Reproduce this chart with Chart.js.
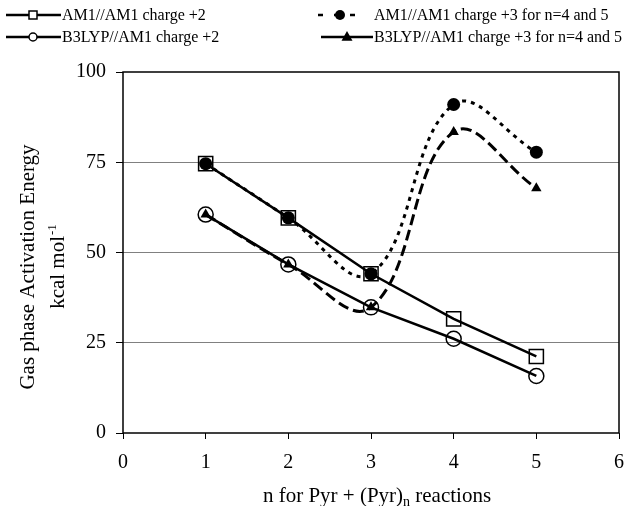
<!DOCTYPE html>
<html>
<head>
<meta charset="utf-8">
<script src="https://cdn.jsdelivr.net/npm/chart.js@4.4.1/dist/chart.umd.min.js"></script>
<style>
  html, body { margin: 0; padding: 0; background: #fff; }
  #box { width: 636px; height: 506px; }
</style>
</head>
<body>
<div id="box"><canvas id="grafico"></canvas></div>
<script>
// Valores
const nValues = [1, 2, 3, 4, 5];
const am1Charge2 = [74.6, 59.6, 44.1, 31.6, 21.2];
const b3lypCharge2 = [60.5, 46.7, 34.8, 26.1, 15.8];
const am1Charge3 = [74.6, 59.6, 44.1, 91.0, 77.8];
const b3lypCharge3 = [60.5, 46.7, 34.8, 83.4, 67.8];
const yTicks = [0, 25, 50, 75, 100];
const xTicks = [0, 1, 2, 3, 4, 5, 6];
const seriesNames = [
  'AM1//AM1 charge +2',
  'B3LYP//AM1 charge +2',
  'AM1//AM1 charge +3 for n=4 and 5',
  'B3LYP//AM1 charge +3 for n=4 and 5'
];

const serif = "'Liberation Serif', 'Times New Roman', serif";

function toPoints(ys) {
  return nValues.map((n, i) => ({ x: n, y: ys[i] }));
}

// desenha um marcador simples (legenda)
function drawMarker(ctx, kind, x, y, s) {
  ctx.save();
  ctx.setLineDash([]);
  ctx.lineWidth = 1.5;
  ctx.strokeStyle = '#000';
  ctx.fillStyle = '#000';
  ctx.beginPath();
  if (kind === 'square') {
    ctx.fillStyle = '#fff';
    ctx.rect(x - s, y - s, 2 * s, 2 * s);
    ctx.fill(); ctx.stroke();
  } else if (kind === 'circle') {
    ctx.fillStyle = '#fff';
    ctx.arc(x, y, s, 0, Math.PI * 2);
    ctx.fill(); ctx.stroke();
  } else if (kind === 'dot') {
    ctx.arc(x, y, s, 0, Math.PI * 2);
    ctx.fill();
  } else if (kind === 'triangle') {
    ctx.moveTo(x, y - s * 1.1);
    ctx.lineTo(x + s, y + s * 0.7);
    ctx.lineTo(x - s, y + s * 0.7);
    ctx.closePath();
    ctx.fill();
  }
  ctx.restore();
}

const legendItems = [
  { text: seriesNames[0], x0: 6, x1: 61, mx: 33, y: 15, dash: [], marker: 'square', ms: 4, tx: 62 },
  { text: seriesNames[1], x0: 6, x1: 61, mx: 33, y: 37, dash: [], marker: 'circle', ms: 4, tx: 62 },
  { text: seriesNames[2], x0: 318, x1: 358, mx: 340, y: 15, dash: [5, 11], marker: 'dot', ms: 5, tx: 374 },
  { text: seriesNames[3], x0: 321, x1: 373, mx: 347, y: 37, dash: [], marker: 'triangle', ms: 5.5, tx: 374 }
];

const extraText = {
  id: 'extraText',
  beforeDatasetsDraw(chart) {
    const { ctx, chartArea: a } = chart;
    ctx.save();
    ctx.strokeStyle = '#000';
    ctx.lineWidth = 1.5;
    ctx.strokeRect(a.left, a.top, a.right - a.left, a.bottom - a.top);
    ctx.restore();
  },
  afterDraw(chart) {
    const ctx = chart.ctx;
    ctx.save();
    ctx.fillStyle = '#000';

    // legenda
    ctx.font = '16px ' + serif;
    ctx.textAlign = 'left';
    ctx.textBaseline = 'middle';
    legendItems.forEach(it => {
      ctx.save();
      ctx.strokeStyle = '#000';
      ctx.lineWidth = 2.5;
      ctx.setLineDash(it.dash);
      ctx.beginPath();
      ctx.moveTo(it.x0, it.y);
      ctx.lineTo(it.x1, it.y);
      ctx.stroke();
      ctx.restore();
      drawMarker(ctx, it.marker, it.mx, it.y, it.ms);
      ctx.fillText(it.text, it.tx, it.y + 1);
    });

    // título do eixo Y
    ctx.save();
    ctx.translate(34, 267);
    ctx.rotate(-Math.PI / 2);
    ctx.textBaseline = 'alphabetic';
    ctx.textAlign = 'center';
    ctx.font = '21px ' + serif;
    ctx.fillText('Gas phase Activation Energy', 0, 0);
    ctx.textAlign = 'left';
    const main = 'kcal mol';
    const sup = '-1';
    const w1 = ctx.measureText(main).width;
    ctx.font = '13px ' + serif;
    const w2 = ctx.measureText(sup).width;
    const u0 = -(w1 + w2) / 2;
    ctx.font = '21px ' + serif;
    ctx.fillText(main, u0, 30);
    ctx.font = '13px ' + serif;
    ctx.fillText(sup, u0 + w1 + 1, 22);
    ctx.restore();

    // título do eixo X
    ctx.save();
    ctx.textBaseline = 'alphabetic';
    ctx.textAlign = 'left';
    const a1 = 'n for Pyr + (Pyr)';
    const sub = 'n';
    const a2 = ' reactions';
    ctx.font = '21px ' + serif;
    const wa1 = ctx.measureText(a1).width;
    const wa2 = ctx.measureText(a2).width;
    ctx.font = '14px ' + serif;
    const ws = ctx.measureText(sub).width;
    let x = 377 - (wa1 + ws + wa2) / 2;
    ctx.font = '21px ' + serif;
    ctx.fillText(a1, x, 502);
    x += wa1;
    ctx.font = '14px ' + serif;
    ctx.fillText(sub, x, 506);
    x += ws;
    ctx.font = '21px ' + serif;
    ctx.fillText(a2, x, 502);
    ctx.restore();

    ctx.restore();
  }
};

const config = {
  type: 'line',
  data: {
    datasets: [
      {
        label: seriesNames[2],
        data: toPoints(am1Charge3),
        borderColor: '#000',
        borderWidth: 3,
        borderDash: [4, 5],
        tension: 0.4,
        pointStyle: 'circle',
        pointRadius: 6.5,
        pointBackgroundColor: '#000',
        pointBorderColor: '#000',
        pointBorderWidth: 0
      },
      {
        label: seriesNames[3],
        data: toPoints(b3lypCharge3),
        borderColor: '#000',
        borderWidth: 3,
        borderDash: [11, 5],
        tension: 0.4,
        pointStyle: 'triangle',
        pointRadius: 6,
        pointBackgroundColor: '#000',
        pointBorderColor: '#000',
        pointBorderWidth: 0
      },
      {
        label: seriesNames[0],
        data: toPoints(am1Charge2),
        borderColor: '#000',
        borderWidth: 2.5,
        tension: 0,
        pointStyle: 'rect',
        pointRadius: 10,
        pointBackgroundColor: 'rgba(255,255,255,0)',
        pointBorderColor: '#000',
        pointBorderWidth: 1.5
      },
      {
        label: seriesNames[1],
        data: toPoints(b3lypCharge2),
        borderColor: '#000',
        borderWidth: 2.5,
        tension: 0,
        pointStyle: 'circle',
        pointRadius: 7.5,
        pointBackgroundColor: 'rgba(255,255,255,0)',
        pointBorderColor: '#000',
        pointBorderWidth: 1.5
      }
    ]
  },
  options: {
    responsive: true,
    maintainAspectRatio: false,
    animation: false,
    layout: { padding: { top: 72, right: 8, bottom: 0, left: 0 } },
    plugins: {
      legend: { display: false },
      tooltip: { enabled: false }
    },
    scales: {
      x: {
        type: 'linear',
        min: 0,
        max: 6,
        afterBuildTicks: s => { s.ticks = xTicks.map(v => ({ value: v })); },
        afterFit: s => { s.height = 73; },
        ticks: { color: '#000', font: { family: serif, size: 20 }, padding: 12, maxRotation: 0 },
        grid: { drawOnChartArea: false, tickLength: 6, tickColor: '#000', tickWidth: 1 },
        border: { display: false }
      },
      y: {
        min: 0,
        max: 100,
        afterBuildTicks: s => { s.ticks = yTicks.map(v => ({ value: v })); },
        afterFit: s => { s.width = 123; },
        ticks: { color: '#000', font: { family: serif, size: 20 }, padding: 10 },
        grid: {
          color: c => (c.tick && (c.tick.value === 0 || c.tick.value === 100)) ? 'rgba(0,0,0,0)' : '#808080',
          lineWidth: 1,
          tickLength: 7,
          tickColor: '#000'
        },
        border: { display: false }
      }
    }
  },
  plugins: [extraText]
};

const grafico = new Chart(document.getElementById('grafico').getContext('2d'), config);
</script>
</body>
</html>
